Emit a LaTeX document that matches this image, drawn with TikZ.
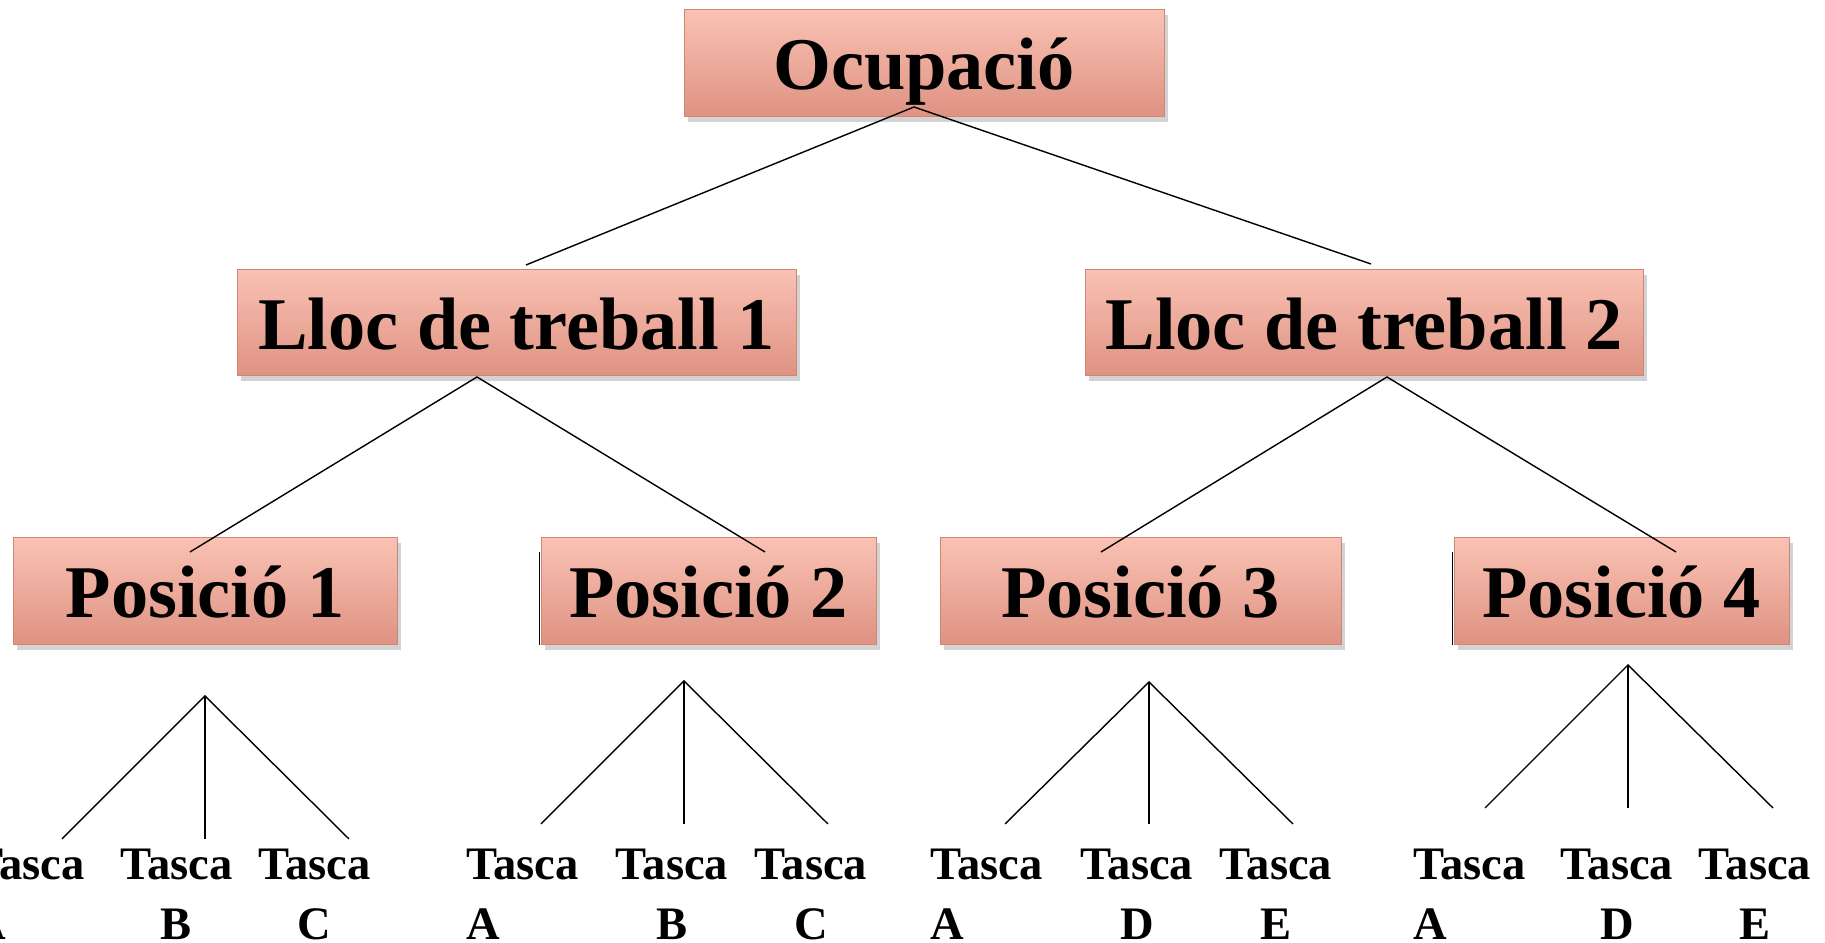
\documentclass[tikz,border=0pt]{standalone}
\usepackage{fontspec}
\setmainfont{Liberation Serif}
\usepackage{tikz}
\usetikzlibrary{calc,positioning,shadows}

\definecolor{salmonT}{RGB}{250,194,180}
\definecolor{salmonM}{RGB}{245,172,156}
\definecolor{salmonB}{RGB}{222,146,130}
\definecolor{salmonD}{RGB}{205,135,120}

\begin{document}
\begin{tikzpicture}[
		caixa/.style={draw=salmonD, line width=0.4pt, top color=salmonT, middle color=salmonM, bottom color=salmonB,
			drop shadow={shadow xshift=2pt, shadow yshift=-3pt, opacity=0.35},
			minimum height=2.13cm, inner sep=0pt, text height=1.08cm, text depth=0pt,
			font=\fontsize{42.3}{48}\selectfont\bfseries},
		tasca/.style={inner sep=0pt, font=\fontsize{26.5}{34.5}\selectfont\bfseries},
		branca/.style={line width=0.8pt}]
		\path[use as bounding box, clip] (0,0) rectangle (36.5,18.86);

		\node[caixa, minimum width=9.6cm] (ocup) at (18.48,17.60) {Ocupació};
		\node[caixa, minimum width=11.18cm] (lloc1) at (10.33,12.41) {Lloc de treball 1};
		\node[caixa, minimum width=11.16cm] (lloc2) at (27.28,12.41) {Lloc de treball 2};
		\node[caixa, minimum width=7.68cm] (pos1) at (4.10,7.04) {Posició 1};
		\node[caixa, minimum width=6.70cm] (pos2) at (14.17,7.04) {Posició 2};
		\node[caixa, minimum width=8.02cm] (pos3) at (22.81,7.04) {Posició 3};
		\node[caixa, minimum width=6.70cm] (pos4) at (32.43,7.04) {Posició 4};
		\draw[line width=0.6pt] ([xshift=-0.5pt,yshift=-0.3cm]pos2.north west) -- ([xshift=-0.5pt]pos2.south west);
		\draw[line width=0.6pt] ([xshift=-0.5pt,yshift=-0.3cm]pos4.north west) -- ([xshift=-0.5pt]pos4.south west);

		\coordinate (ocupb) at (18.28,16.72);
		\coordinate (lloc1t) at (10.52,13.56);
		\coordinate (lloc2t) at (27.42,13.58);
		\coordinate (lloc1b) at (9.54,11.32);
		\coordinate (lloc2b) at (27.74,11.32);
		\coordinate (pos1t) at (3.80,7.82);
		\coordinate (pos2t) at (15.30,7.82);
		\coordinate (pos3t) at (22.02,7.82);
		\coordinate (pos4t) at (33.52,7.82);

		\draw[branca] (lloc1t) -- (ocupb) -- (lloc2t);
		\draw[branca] (pos1t) -- (lloc1b) -- (pos2t);
		\draw[branca] (pos3t) -- (lloc2b) -- (pos4t);

		\coordinate (g1) at (4.10,4.94);
		\coordinate (g2) at (13.68,5.24);
		\coordinate (g3) at (22.98,5.22);
		\coordinate (g4) at (32.56,5.56);
		\foreach \g/\a/\b/\c/\y in {1/1.24/4.10/6.98/2.08, 2/10.82/13.68/16.56/2.38, 3/20.10/22.98/25.86/2.38, 4/29.70/32.56/35.46/2.70}{
			\coordinate (g\g a) at (\a,\y);
			\coordinate (g\g b) at (\b,\y);
			\coordinate (g\g c) at (\c,\y);
			\draw[branca] (g\g a) -- (g\g) -- (g\g c);
			\draw[branca] (g\g) -- (g\g b);
		}

		\node[tasca, anchor=base west, align=left] (t1a) at (-0.56,0.06) {Tasca\\A};
		\node[tasca, anchor=base, align=center] (t1b) at (3.53,0.06) {Tasca\\B};
		\node[tasca, anchor=base, align=center] (t1c) at (6.29,0.06) {Tasca\\C};
		\node[tasca, anchor=base west, align=left] (t2a) at (9.32,0.06) {Tasca\\A};
		\node[tasca, anchor=base, align=center] (t2b) at (13.44,0.06) {Tasca\\B};
		\node[tasca, anchor=base, align=center] (t2c) at (16.22,0.06) {Tasca\\C};
		\node[tasca, anchor=base west, align=left] (t3a) at (18.60,0.06) {Tasca\\A};
		\node[tasca, anchor=base, align=center] (t3b) at (22.74,0.06) {Tasca\\D};
		\node[tasca, anchor=base, align=center] (t3c) at (25.52,0.06) {Tasca\\E};
		\node[tasca, anchor=base west, align=left] (t4a) at (28.26,0.06) {Tasca\\A};
		\node[tasca, anchor=base, align=center] (t4b) at (32.34,0.06) {Tasca\\D};
		\node[tasca, anchor=base, align=center] (t4c) at (35.10,0.06) {Tasca\\E};
	\end{tikzpicture}
\end{document}
